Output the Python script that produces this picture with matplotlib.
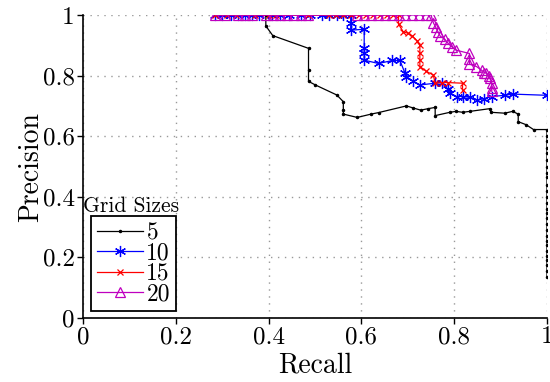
import numpy as np
import matplotlib
matplotlib.use('Agg')
import matplotlib.pyplot as plt

plt.rcParams['font.family'] = ['cmr10', 'DejaVu Serif']
plt.rcParams['axes.formatter.use_mathtext'] = True
plt.rcParams['mathtext.fontset'] = 'cm'

# grid size 5
recall5 = [0.285, 0.31, 0.33, 0.35, 0.37, 0.394, 0.394, 0.409, 0.486, 0.486, 0.486, 0.501,
           0.547, 0.561, 0.561, 0.561, 0.591, 0.621, 0.637, 0.697, 0.712, 0.728, 0.744,
           0.759, 0.759, 0.791, 0.804, 0.818, 0.834, 0.877, 0.879, 0.909, 0.926, 0.938,
           0.938, 0.955, 0.971, 1.0, 1.0, 1.0, 1.0, 1.0, 1.0, 1.0, 1.0, 1.0, 1.0, 1.0,
           1.0, 1.0, 1.0, 1.0, 1.0, 1.0, 1.0, 1.0, 1.0, 1.0, 1.0, 1.0, 1.0, 1.0, 1.0, 1.0]
prec5 = [1.0, 1.0, 1.0, 1.0, 1.0, 1.0, 0.964, 0.932, 0.89, 0.82, 0.781, 0.769,
         0.736, 0.714, 0.686, 0.673, 0.662, 0.673, 0.678, 0.700, 0.693, 0.686, 0.691,
         0.695, 0.668, 0.679, 0.682, 0.679, 0.682, 0.691, 0.679, 0.676, 0.682, 0.673,
         0.648, 0.638, 0.622, 0.622, 0.60, 0.585, 0.56, 0.545, 0.52, 0.50, 0.48, 0.465,
         0.44, 0.42, 0.40, 0.38, 0.36, 0.345, 0.33, 0.31, 0.29, 0.27, 0.255, 0.24,
         0.22, 0.205, 0.19, 0.175, 0.155, 0.135]

# grid size 10
recall10 = [0.285, 0.30, 0.318, 0.335, 0.35, 0.365, 0.380, 0.407, 0.424, 0.445, 0.469,
            0.49, 0.516, 0.531, 0.547, 0.561, 0.577, 0.577, 0.577, 0.606, 0.606, 0.606,
            0.606, 0.637, 0.667, 0.683, 0.694, 0.697, 0.712, 0.726, 0.759, 0.773, 0.787,
            0.791, 0.805, 0.820, 0.834, 0.850, 0.864, 0.881, 0.909, 0.926, 1.0]
prec10 = [1.0, 1.0, 1.0, 1.0, 1.0, 1.0, 1.0, 1.0, 1.0, 1.0, 1.0,
          1.0, 1.0, 1.0, 1.0, 1.0, 1.0, 0.975, 0.950, 0.953, 0.890, 0.873,
          0.851, 0.840, 0.850, 0.850, 0.808, 0.797, 0.781, 0.769, 0.775, 0.777, 0.755,
          0.742, 0.731, 0.731, 0.728, 0.719, 0.724, 0.731, 0.735, 0.739, 0.735]

# grid size 15
recall15 = [0.285, 0.31, 0.33, 0.37, 0.40, 0.415, 0.485, 0.53, 0.545, 0.561, 0.577,
            0.595, 0.61, 0.625, 0.64, 0.655, 0.668, 0.68, 0.68, 0.69, 0.70, 0.71, 0.72,
            0.726, 0.726, 0.726, 0.726, 0.740, 0.755, 0.759, 0.773, 0.787, 0.818, 0.818]
prec15 = [1.0, 1.0, 1.0, 1.0, 1.0, 1.0, 1.0, 1.0, 1.0, 1.0, 1.0,
          1.0, 1.0, 1.0, 1.0, 1.0, 1.0, 1.0, 0.97, 0.945, 0.94, 0.93, 0.915,
          0.90, 0.873, 0.851, 0.830, 0.814, 0.802, 0.775, 0.777, 0.777, 0.775, 0.752]

# grid size 20
recall20 = [0.285, 0.305, 0.335, 0.35, 0.365, 0.395, 0.41, 0.425, 0.44, 0.455, 0.47,
            0.485, 0.59, 0.605, 0.62, 0.635, 0.65, 0.665, 0.68, 0.695, 0.71, 0.725,
            0.74, 0.75, 0.755, 0.76, 0.765, 0.77, 0.78, 0.787, 0.795, 0.804, 0.833,
            0.833, 0.833, 0.848, 0.859, 0.865, 0.869, 0.875, 0.877, 0.881, 0.881, 0.881]
prec20 = [1.0, 1.0, 1.0, 1.0, 1.0, 1.0, 1.0, 1.0, 1.0, 1.0, 1.0,
          1.0, 1.0, 1.0, 1.0, 1.0, 1.0, 1.0, 1.0, 1.0, 1.0, 1.0,
          1.0, 1.0, 0.975, 0.96, 0.945, 0.93, 0.92, 0.906, 0.895, 0.884, 0.873,
          0.855, 0.838, 0.830, 0.818, 0.81, 0.808, 0.80, 0.791, 0.777, 0.76, 0.748]

ticks = [0, 0.2, 0.4, 0.6, 0.8, 1]
tick_labels = ['0', '0.2', '0.4', '0.6', '0.8', '1']

fig = plt.figure(figsize=(5.5, 3.82), dpi=100)
ax = fig.add_axes([0.151, 0.1675, 0.8435, 0.7932])

ax.plot(recall5, prec5, color='k', lw=0.9, marker='.', ms=3, label='5')
ax.plot(recall10, prec10, color='b', lw=0.9, marker=(6, 2, 0), ms=8, mew=0.9, label='10')
ax.plot(recall15, prec15, color='r', lw=0.9, marker='x', ms=5, mew=0.9, label='15')
ax.plot(recall20, prec20, color='m', lw=0.9, marker='^', ms=7, mfc='none', mew=0.9, label='20')

ax.set_xlim(0, 1)
ax.set_ylim(0, 1)
ax.set_xticks(ticks)
ax.set_xticklabels(tick_labels)
ax.set_yticks(ticks)
ax.set_yticklabels(tick_labels)
ax.tick_params(direction='out', length=4, width=1, labelsize=18, pad=2)
for s in ['top', 'right']:
    ax.spines[s].set_visible(False)
for s in ['left', 'bottom']:
    ax.spines[s].set_linewidth(1.2)
ax.grid(True, linestyle=(0, (1, 4)), color='#999999', linewidth=1)

ax.set_xlabel('Recall', fontsize=20, labelpad=3)
ax.set_ylabel('Precision', fontsize=20, labelpad=-1)

leg = ax.legend(loc='lower left', bbox_to_anchor=(0.017, 0.023), borderaxespad=0,
                fontsize=17, fancybox=False, framealpha=1, edgecolor='k',
                handlelength=1.95, handletextpad=0.15, labelspacing=-0.08,
                borderpad=0.25)
leg.get_frame().set_linewidth(1.3)
ax.text(0.0, 0.368, 'Grid Sizes', transform=ax.transAxes, fontsize=15.5, va='center', ha='left')

fig.savefig('out.png', dpi=100)
